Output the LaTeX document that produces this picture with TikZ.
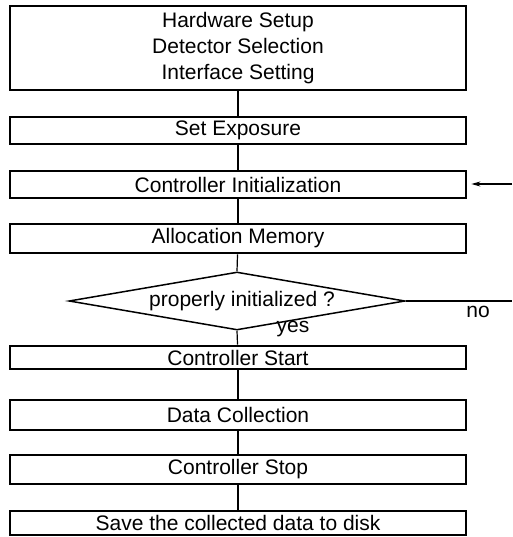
\documentclass[tikz,border=0pt]{standalone}
\usepackage{fontspec}
\setmainfont{Liberation Sans}
\usetikzlibrary{shapes.geometric,arrows.meta}
\begin{document}
\begin{tikzpicture}[x=1pt,y=-1pt,
  every node/.style={font=\fontsize{21}{26}\selectfont},
  stepbox/.style={draw, line width=2.8pt, minimum width=456pt, inner sep=0pt, align=center},
  decbox/.style={draw, diamond, shape aspect=5.8, line width=1.5pt, minimum width=336pt, minimum height=58pt, inner sep=0pt},
  link/.style={line width=1.2pt},
  lbl/.style={inner sep=0pt}
]
\useasboundingbox[fill=white] (0,0) rectangle (512,537);
\node[stepbox, minimum height=84pt] (top) at (238,48) {Hardware Setup\\Detector Selection\\Interface Setting};
\node[stepbox, minimum height=27pt] (setexp) at (238,130.5) {Set Exposure};
\node[stepbox, minimum height=27pt] (ctrlinit) at (238,184.5) {Controller Initialization};
\node[stepbox, minimum height=29pt] (alloc) at (238,238.5) {Allocation Memory};
\node[decbox] (dec) at (237,301) {\hspace*{10pt}properly initialized ?};
\node[stepbox, minimum height=23pt] (ctrlstart) at (238,357.5) {Controller Start};
\node[stepbox, minimum height=30pt] (datacol) at (238,415) {Data Collection};
\node[stepbox, minimum height=29pt] (ctrlstop) at (238,469.5) {Controller Stop};
\node[stepbox, minimum height=24pt] (save) at (238,523) {Save the collected data to disk};

\draw[link] (top) -- (setexp);
\draw[link] (setexp) -- (ctrlinit);
\draw[link] (ctrlinit) -- (alloc);
\draw[link] (alloc) -- (dec.north);
\draw[link] (dec.south) -- (ctrlstart);
\draw[link] (ctrlstart) -- (datacol);
\draw[link] (datacol) -- (ctrlstop);
\draw[link] (ctrlstop) -- (save);

\coordinate (loopin) at (512,184);
\coordinate (noend) at (512,301);
\draw[link, -{Stealth[length=9pt,width=5pt]}, shorten >=4pt] (loopin) -- (ctrlinit.east |- loopin);
\draw[link] (dec.east) -- (noend);

\node[lbl] (no) at (478,312) {no};
\node[lbl] (yes) at (293,329) {yes};
\end{tikzpicture}
\end{document}
